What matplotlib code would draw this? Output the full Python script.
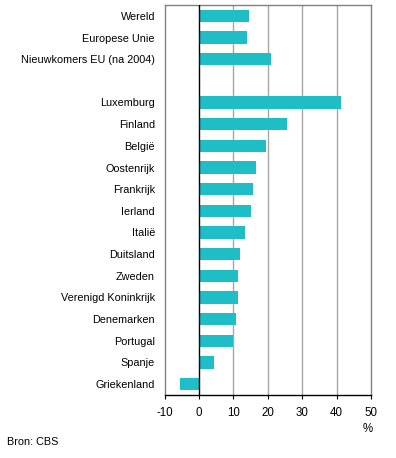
import matplotlib
matplotlib.use("Agg")
import matplotlib.pyplot as plt
import numpy as np

plt.rcParams['font.family'] = ['Liberation Sans', 'DejaVu Sans']

# data (top to bottom), '' = empty slot
labels = ["Wereld", "Europese Unie", "Nieuwkomers EU (na 2004)", "",
          "Luxemburg", "Finland", "België", "Oostenrijk", "Frankrijk", "Ierland",
          "Italië", "Duitsland", "Zweden", "Verenigd Koninkrijk", "Denemarken",
          "Portugal", "Spanje", "Griekenland"]
values = [14.5, 14.0, 20.9, np.nan,
          41.3, 25.6, 19.5, 16.6, 15.7, 15.2,
          13.4, 12.0, 11.4, 11.4, 10.8,
          9.9, 4.3, -5.5]
xticks = [-10, 0, 10, 20, 30, 40, 50]

fs = 7.8
fig = plt.figure(figsize=(3.96, 4.58), dpi=100)
ax = fig.add_axes([164.7 / 396, 63 / 458, (371 - 164.7) / 396, 390 / 458])

y = np.arange(len(labels))
ax.barh(y, np.nan_to_num(values), height=0.58, color="#1fbdc6", zorder=3)
ax.set_ylim(len(labels) - 0.5, -0.5)
ax.set_xlim(-10, 50)
ax.set_xticks(xticks)
ax.set_xticklabels([str(t) for t in xticks], fontsize=8.3)
ax.set_yticks(y)
ax.set_yticklabels(labels, fontsize=fs)
ax.tick_params(axis='y', length=0, pad=7)
ax.tick_params(axis='x', length=3, color="#000000", pad=6)

for x in xticks[2:-1]:
    ax.axvline(x, color="#a6a6a6", lw=1, zorder=1)
ax.axvline(0, color="black", lw=1, zorder=4)
for s in ax.spines.values():
    s.set_color("#808080")
    s.set_linewidth(1)
ax.spines['bottom'].set_color("black")

fig.text(368 / 396, 1 - 429 / 458, "%", fontsize=8.3, ha="center", va="center")
fig.text(7 / 396, 1 - 442 / 458, "Bron: CBS", fontsize=fs, ha="left", va="center")

fig.savefig("out.png", dpi=100)
